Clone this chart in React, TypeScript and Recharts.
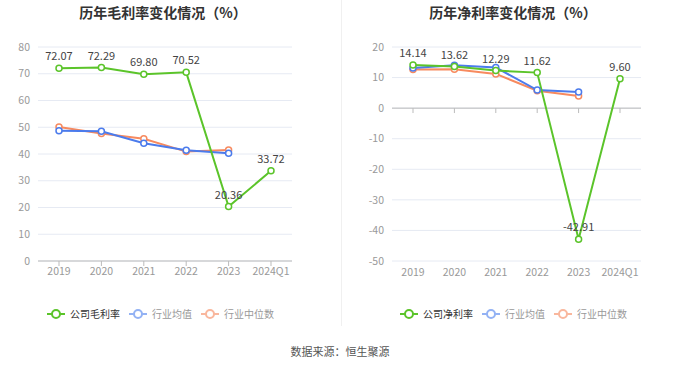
import React from 'react';
import { LineChart, Line, XAxis, YAxis, CartesianGrid, ReferenceLine, LabelList } from 'recharts';

const years = ['2019', '2020', '2021', '2022', '2023', '2024Q1'];

const grossCompany = [72.07, 72.29, 69.8, 70.52, 20.36, 33.72];
const grossIndustryAvg = [48.7, 48.5, 44.0, 41.4, 40.3, null];
const grossIndustryMedian = [50.1, 47.7, 45.7, 40.9, 41.5, null];
const grossTicks = [0, 10, 20, 30, 40, 50, 60, 70, 80];

const netCompany = [14.14, 13.62, 12.29, 11.62, -42.91, 9.6];
const netIndustryAvg = [13.1, 14.0, 13.3, 5.9, 5.3, null];
const netIndustryMedian = [12.6, 12.7, 11.2, 5.7, 4.0, null];
const netTicks = [-50, -40, -30, -20, -10, 0, 10, 20];

const GREEN = '#5bc42a';
const BLUE = '#4b7bec';
const ORANGE = '#f78a5f';
const FONT = '"Noto Sans CJK SC", "Noto Sans", sans-serif';

const toRows = (c: (number | null)[], a: (number | null)[], m: (number | null)[]) =>
  years.map((year, i) => ({ year, company: c[i], avg: a[i], median: m[i] }));

const grossData = toRows(grossCompany, grossIndustryAvg, grossIndustryMedian);
const netData = toRows(netCompany, netIndustryAvg, netIndustryMedian);

function LegendIcon({ color }: { color: string }) {
  return (
    <svg width={18} height={10} style={{ marginRight: 5 }}>
      <line x1={0} y1={5} x2={18} y2={5} stroke={color} strokeWidth={2} />
      <circle cx={9} cy={5} r={4} fill="#fff" stroke={color} strokeWidth={2} />
    </svg>
  );
}

function ChartLegend({ first, left }: { first: string; left: number }) {
  const items = [
    { name: first, icon: GREEN, text: '#333' },
    { name: '行业均值', icon: '#93b2f4', text: '#999' },
    { name: '行业中位数', icon: '#f9b79d', text: '#999' },
  ];
  return (
    <div
      style={{
        position: 'absolute',
        top: 306,
        left,
        width: 340,
        display: 'flex',
        justifyContent: 'center',
        alignItems: 'center',
        fontSize: 10,
      }}
    >
      {items.map((it) => (
        <div key={it.name} style={{ display: 'flex', alignItems: 'center', marginRight: 9, color: it.text }}>
          <LegendIcon color={it.icon} />
          {it.name}
        </div>
      ))}
    </div>
  );
}

const tickStyle = { fill: '#999', fontSize: 10.5 };
const fmt = (v: any) => (typeof v === 'number' ? v.toFixed(2) : v);

export default function App() {
  return (
    <div
      style={{
        position: 'absolute',
        left: 0,
        top: 0,
        width: 680,
        height: 367,
        background: '#fff',
        fontFamily: FONT,
      }}
    >
      <div style={{ position: 'absolute', top: 2, left: 0, width: 326, textAlign: 'center', fontSize: 14, fontWeight: 'bold', color: '#333' }}>
        历年毛利率变化情况（%）
      </div>
      <div style={{ position: 'absolute', top: 2, left: 340, width: 346, textAlign: 'center', fontSize: 14, fontWeight: 'bold', color: '#333' }}>
        历年净利率变化情况（%）
      </div>

      <div style={{ position: 'absolute', left: 0, top: 0 }}>
        <LineChart width={340} height={292} data={grossData} margin={{ top: 47, right: 48, bottom: 0, left: 0 }}>
          <CartesianGrid vertical={false} stroke="#e6eaf3" />
          <XAxis
            dataKey="year"
            tick={tickStyle}
            stroke="#bbb"
            tickSize={5}
            interval={0}
            height={31}
            padding={{ left: 21, right: 21 }}
          />
          <YAxis
            domain={[0, 80]}
            ticks={grossTicks}
            width={38}
            tick={tickStyle}
            axisLine={false}
            tickLine={false}
          />
          <Line dataKey="median" stroke={ORANGE} strokeWidth={2} dot={{ r: 3, fill: '#fff', strokeWidth: 1.5 }} isAnimationActive={false} />
          <Line dataKey="avg" stroke={BLUE} strokeWidth={2} dot={{ r: 3, fill: '#fff', strokeWidth: 1.5 }} isAnimationActive={false} />
          <Line dataKey="company" stroke={GREEN} strokeWidth={2} dot={{ r: 3, fill: '#fff', strokeWidth: 1.5 }} isAnimationActive={false}>
            <LabelList dataKey="company" position="top" offset={8} formatter={fmt} style={{ fill: '#444', fontSize: 11 }} />
          </Line>
        </LineChart>
      </div>

      <div style={{ position: 'absolute', left: 340, top: 0 }}>
        <LineChart width={340} height={292} data={netData} margin={{ top: 47, right: 39, bottom: 0, left: 0 }}>
          <CartesianGrid vertical={false} stroke="#e6eaf3" />
          <XAxis
            dataKey="year"
            tick={tickStyle}
            axisLine={false}
            tickLine={false}
            interval={0}
            height={31}
            padding={{ left: 21, right: 21 }}
          />
          <YAxis
            domain={[-50, 20]}
            ticks={netTicks}
            width={52}
            tick={tickStyle}
            axisLine={false}
            tickLine={false}
          />
          <ReferenceLine y={0} stroke="#bbb" />
          {years.map((y) => (
            <ReferenceLine key={y} segment={[{ x: y, y: 0 }, { x: y, y: -1.6 }]} stroke="#bbb" />
          ))}
          <Line dataKey="median" stroke={ORANGE} strokeWidth={2} dot={{ r: 3, fill: '#fff', strokeWidth: 1.5 }} isAnimationActive={false} />
          <Line dataKey="avg" stroke={BLUE} strokeWidth={2} dot={{ r: 3, fill: '#fff', strokeWidth: 1.5 }} isAnimationActive={false} />
          <Line dataKey="company" stroke={GREEN} strokeWidth={2} dot={{ r: 3, fill: '#fff', strokeWidth: 1.5 }} isAnimationActive={false}>
            <LabelList dataKey="company" position="top" offset={8} formatter={fmt} style={{ fill: '#444', fontSize: 11 }} />
          </Line>
        </LineChart>
      </div>

      <div style={{ position: 'absolute', left: 341, top: 0, width: 1, height: 326, background: '#f0f0f0' }} />

      <ChartLegend first="公司毛利率" left={-5} />
      <ChartLegend first="公司净利率" left={348} />

      <div style={{ position: 'absolute', top: 343, left: 0, width: 680, textAlign: 'center', fontSize: 11, color: '#555' }}>
        数据来源：恒生聚源
      </div>
    </div>
  );
}
